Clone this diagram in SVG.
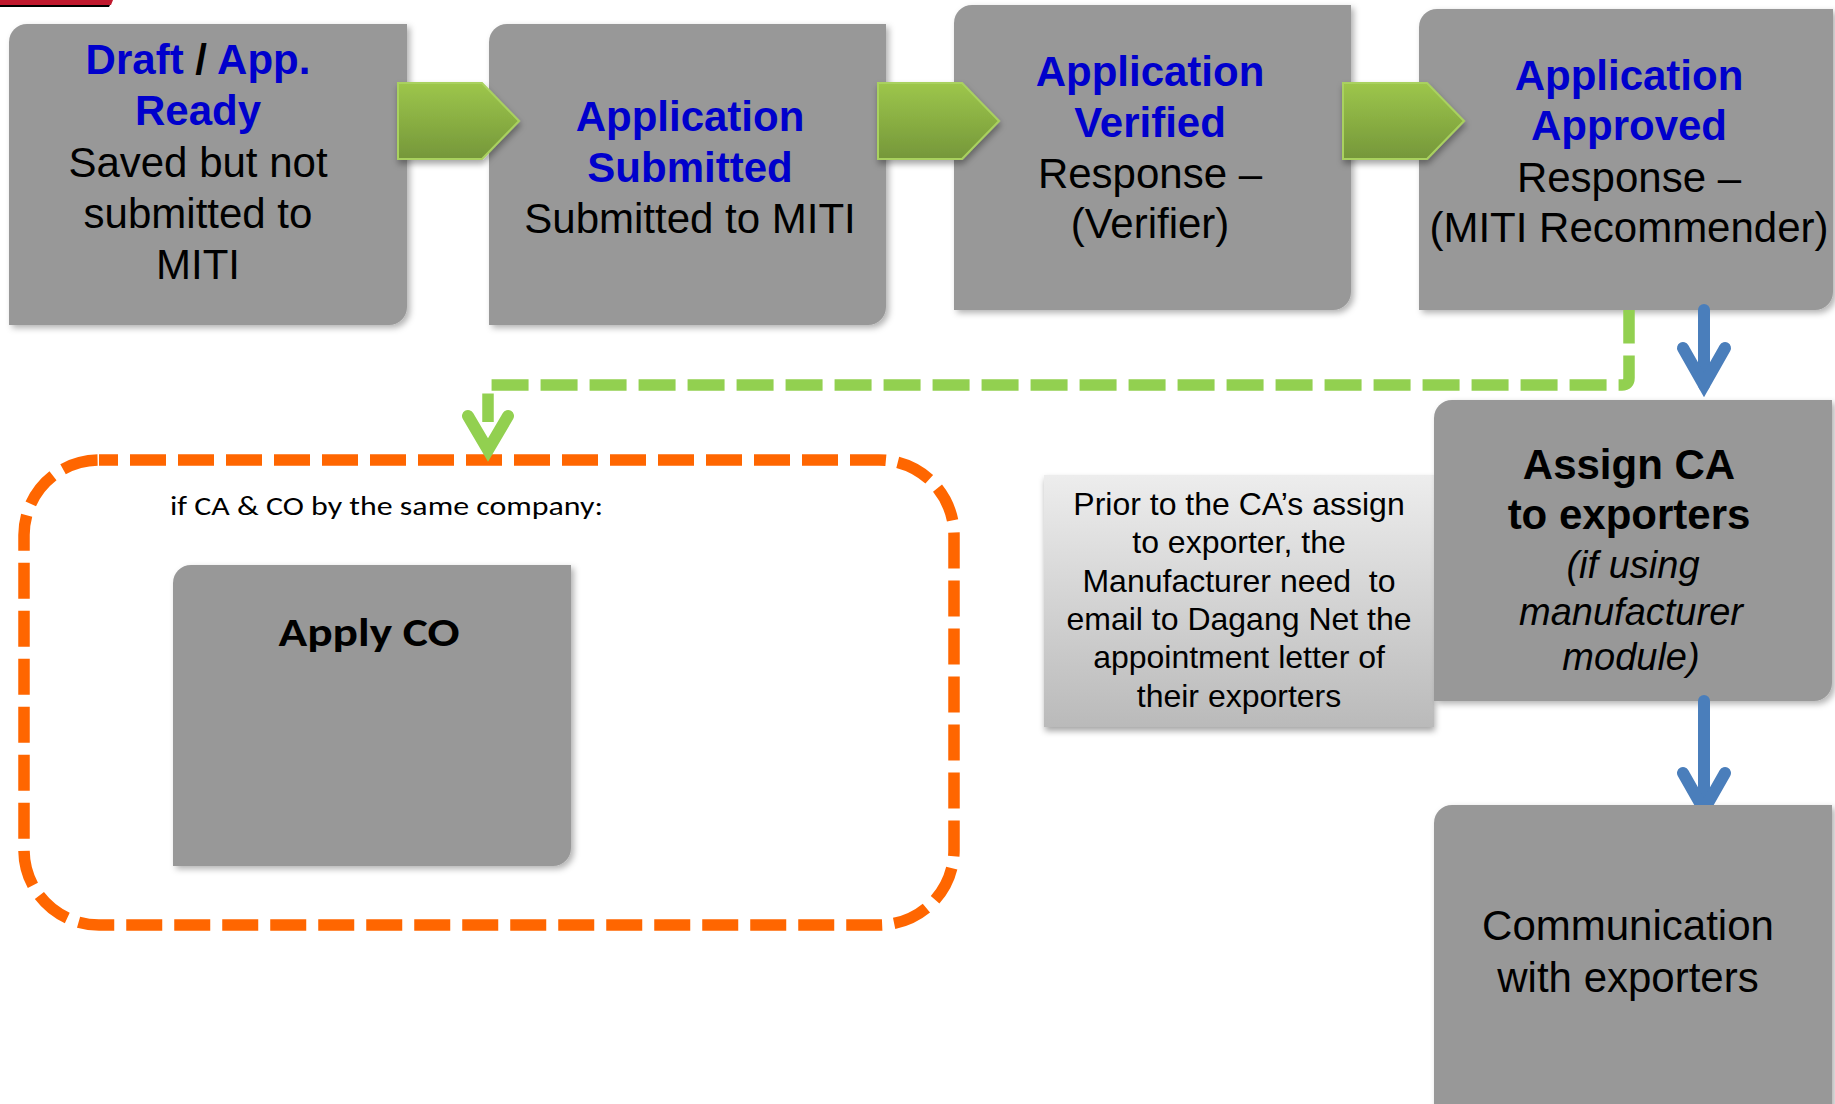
<svg xmlns="http://www.w3.org/2000/svg" width="1835" height="1104" viewBox="0 0 1835 1104">
<style>
.box{fill:#989898;filter:url(#sh)}
.t{font-family:"Liberation Sans",Arial,sans-serif;font-size:42px;text-anchor:middle;fill:#000}
.b{font-weight:bold}
.blue{fill:#0000CC}
.it{font-style:italic;font-size:38px}
.note{font-family:"Liberation Sans",Arial,sans-serif;font-size:32px;text-anchor:middle;fill:#000}
.cal{font-family:Carlito,Calibri,Lato,sans-serif;fill:#000}
.chev{fill:url(#gg);stroke:#A9D15F;stroke-width:2;filter:url(#sh2)}
.bl{fill:none;stroke:#4A7EBB;stroke-width:12;stroke-linecap:round}
.ah{fill:none;stroke-width:12;stroke-linecap:round;stroke-linejoin:miter;stroke-miterlimit:10}
</style>
<defs>
<filter id="sh" x="-10%" y="-10%" width="125%" height="125%">
<feDropShadow dx="3" dy="3" stdDeviation="3" flood-color="#000" flood-opacity="0.3"/>
</filter>
<filter id="sh2" x="-10%" y="-10%" width="125%" height="135%">
<feDropShadow dx="1" dy="4" stdDeviation="3" flood-color="#000" flood-opacity="0.35"/>
</filter>
<linearGradient id="gg" x1="0" y1="0" x2="0" y2="1">
<stop offset="0" stop-color="#9DC64B"/>
<stop offset="1" stop-color="#75973A"/>
</linearGradient>
<linearGradient id="ng" x1="0" y1="0" x2="0" y2="1">
<stop offset="0" stop-color="#EDEDED"/>
<stop offset="1" stop-color="#BABABA"/>
</linearGradient>
<clipPath id="c2"><rect x="1600" y="690" width="200" height="115"/></clipPath>
</defs>
<rect width="1835" height="1104" fill="#fff"/>
<polygon points="0,5 110,5 109,7 0,7" fill="#000"/>
<polygon points="0,0 113,0 111,5 0,5" fill="#C0192E"/>

<g id="container-same-company">
<rect x="24" y="460" width="930" height="465" rx="75" ry="75" fill="none" stroke="#FF6600" stroke-width="11.5" stroke-dasharray="36 12" stroke-dashoffset="17"/>
<text class="cal" x="170" y="515" font-size="27" textLength="433" lengthAdjust="spacingAndGlyphs">if CA &amp; CO by the same company:</text>
</g>

<g id="node-draft">
<path class="box" d="M27,24 H407 V307 A18,18 0 0 1 389,325 H9 V42 A18,18 0 0 1 27,24 Z"/>
<text class="t b" x="198" y="74"><tspan class="blue">Draft</tspan> / <tspan class="blue">App.</tspan></text>
<text class="t b blue" x="198" y="125">Ready</text>
<text class="t" x="198" y="177">Saved but not</text>
<text class="t" x="198" y="228">submitted to</text>
<text class="t" x="198" y="279">MITI</text>
</g>

<g id="node-submitted">
<path class="box" d="M507,24 H886 V307 A18,18 0 0 1 868,325 H489 V42 A18,18 0 0 1 507,24 Z"/>
<text class="t b blue" x="690" y="131">Application</text>
<text class="t b blue" x="690" y="182">Submitted</text>
<text class="t" x="690" y="233">Submitted to MITI</text>
</g>

<g id="node-verified">
<path class="box" d="M972,5 H1351 V292 A18,18 0 0 1 1333,310 H954 V23 A18,18 0 0 1 972,5 Z"/>
<text class="t b blue" x="1150" y="86">Application</text>
<text class="t b blue" x="1150" y="137">Verified</text>
<text class="t" x="1150" y="188">Response –</text>
<text class="t" x="1150" y="238">(Verifier)</text>
</g>

<g id="node-approved">
<path class="box" d="M1437,9 H1833 V292 A18,18 0 0 1 1815,310 H1419 V27 A18,18 0 0 1 1437,9 Z"/>
<text class="t b blue" x="1629" y="90">Application</text>
<text class="t b blue" x="1629" y="140">Approved</text>
<text class="t" x="1629" y="192">Response –</text>
<text class="t" x="1629" y="242">(MITI Recommender)</text>
</g>

<g id="node-note">
<rect x="1044" y="475" width="390" height="252" fill="url(#ng)" filter="url(#sh2)"/>
<text class="note" x="1239" y="515">Prior to the CA’s assign</text>
<text class="note" x="1239" y="553">to exporter, the</text>
<text class="note" x="1239" y="592" xml:space="preserve">Manufacturer need  to</text>
<text class="note" x="1239" y="630">email to Dagang Net the</text>
<text class="note" x="1239" y="668">appointment letter of</text>
<text class="note" x="1239" y="707">their exporters</text>
</g>

<g id="node-assign">
<path class="box" d="M1452,400 H1832 V683 A18,18 0 0 1 1814,701 H1434 V418 A18,18 0 0 1 1452,400 Z"/>
<text class="t b" x="1629" y="479">Assign CA</text>
<text class="t b" x="1629" y="529">to exporters</text>
<text class="t it" x="1633" y="578">(if using</text>
<text class="t it" x="1631" y="625">manufacturer</text>
<text class="t it" x="1631" y="670">module)</text>
</g>

<g id="node-communication">
<path class="box" d="M1452,805 H1832 V1130 H1434 V823 A18,18 0 0 1 1452,805 Z"/>
<text class="t" x="1628" y="940">Communication</text>
<text class="t" x="1628" y="992">with exporters</text>
</g>

<g id="node-apply-co">
<path class="box" d="M191,565 H571 V848 A18,18 0 0 1 553,866 H173 V583 A18,18 0 0 1 191,565 Z"/>
<text class="cal" x="369" y="646" font-size="41" font-weight="bold" text-anchor="middle" textLength="181" lengthAdjust="spacingAndGlyphs">Apply CO</text>
</g>

<g id="connectors">
<polygon class="chev" points="398,83 482,83 519,121 482,159 398,159"/>
<polygon class="chev" points="878,83 962,83 999,121 962,159 878,159"/>
<polygon class="chev" points="1343,83 1427,83 1464,121 1427,159 1343,159"/>
<path d="M1629,310 V378 Q1629,385 1622,385 H488 V422" fill="none" stroke="#92D050" stroke-width="11.5" stroke-dasharray="37 12" stroke-dashoffset="3.5"/>
<polyline class="ah" stroke="#92D050" points="468,416 488,450 508,416"/>
<line class="bl" x1="1704" y1="310" x2="1704" y2="385" stroke-linecap="butt"/>
<polyline class="ah" stroke="#4A7EBB" points="1683,348 1704,385 1725,348"/>
<g clip-path="url(#c2)">
<line class="bl" x1="1704" y1="701" x2="1704" y2="810" stroke-linecap="butt"/>
<polyline class="ah" stroke="#4A7EBB" points="1683,773 1704,810 1725,773"/>
</g>
</g>
</svg>
